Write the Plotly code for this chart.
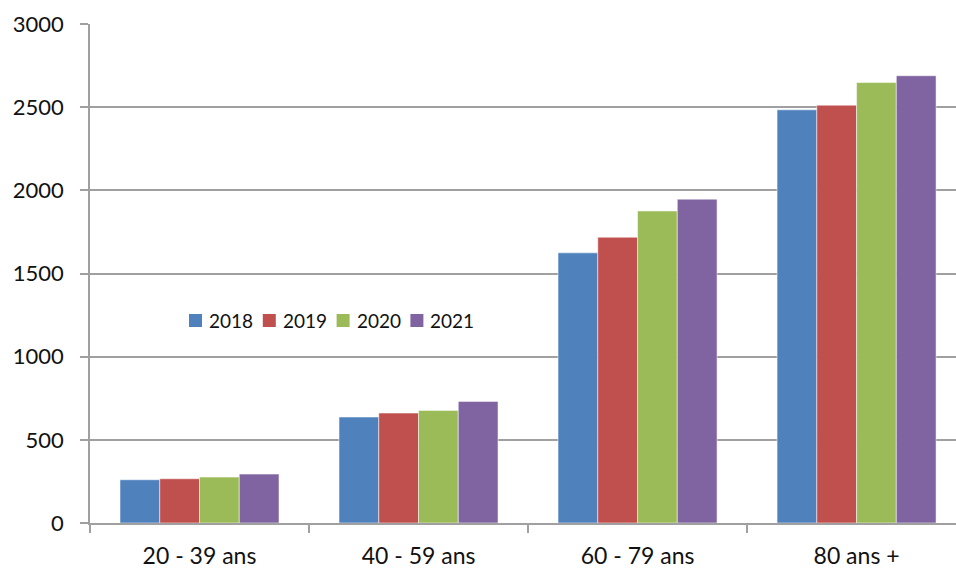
import plotly.graph_objects as go

categories = ["20 - 39 ans", "40 - 59 ans", "60 - 79 ans", "80 ans +"]
years = ["2018", "2019", "2020", "2021"]
v2018 = [260, 637, 1624, 2484]
v2019 = [266, 661, 1718, 2512]
v2020 = [276, 677, 1876, 2648]
v2021 = [294, 731, 1947, 2689]
series_values = [v2018, v2019, v2020, v2021]
colors = ["#4F81BD", "#C0504D", "#9BBB59", "#8064A2"]

W, H = 956, 571
ML, MR, MT, MB = 90, 0, 24, 48
PW, PH = W - ML - MR, H - MT - MB

fig = go.Figure()
for name, vals, col in zip(years, series_values, colors):
    fig.add_trace(go.Bar(
        name=name, x=categories, y=vals,
        marker=dict(color=col, line=dict(color="rgba(255,255,255,0.5)", width=1)),
        showlegend=False,
    ))

# légende façon Excel : petits carrés + texte, dans la zone du graphique
leg_x0, leg_step, leg_y = 189, 73.8, 320.5
sq = 13
for i, (name, col) in enumerate(zip(years, colors)):
    px0 = leg_x0 + i * leg_step
    fig.add_shape(
        type="rect", xref="paper", yref="paper",
        x0=(px0 - ML) / PW, x1=(px0 + sq - ML) / PW,
        y0=(H - MB - (leg_y + sq / 2)) / PH, y1=(H - MB - (leg_y - sq / 2)) / PH,
        fillcolor=col, line=dict(width=0),
    )
    fig.add_annotation(
        text=name, xref="paper", yref="paper",
        x=(px0 + sq + 5 - ML) / PW, y=(H - MB - leg_y) / PH,
        xanchor="left", yanchor="middle", showarrow=False,
        font=dict(size=19), xshift=0,
    )

fig.update_layout(
    barmode="group",
    bargap=0.274,
    bargroupgap=0,
    width=W, height=H,
    margin=dict(l=ML, r=MR, t=MT, b=MB),
    paper_bgcolor="white",
    plot_bgcolor="white",
    font=dict(family="Lato, Open Sans, sans-serif", size=22, color="#111111"),
)

fig.update_yaxes(
    range=[0, 3000],
    dtick=500,
    showgrid=True, gridcolor="#A0A0A0", gridwidth=1.5,
    showline=True, linecolor="#A0A0A0", linewidth=1.5,
    ticks="outside", ticklen=8, tickcolor="#A0A0A0", tickwidth=1.5,
    zeroline=False,
    ticklabelstandoff=12,
    automargin=False,
)
fig.update_xaxes(
    range=[-0.5, 3.454],
    showline=True, linecolor="#A0A0A0", linewidth=1.5,
    ticks="outside", ticklen=8, tickcolor="#A0A0A0", tickwidth=1.5,
    tickson="boundaries",
    showgrid=False,
    tickfont=dict(size=23),
    ticklabelstandoff=12,
    automargin=False,
)

fig.write_html(
    "out.html",
    config={"displayModeBar": False},
    post_script="document.body.style.margin='0';document.body.style.overflow='hidden';",
)
